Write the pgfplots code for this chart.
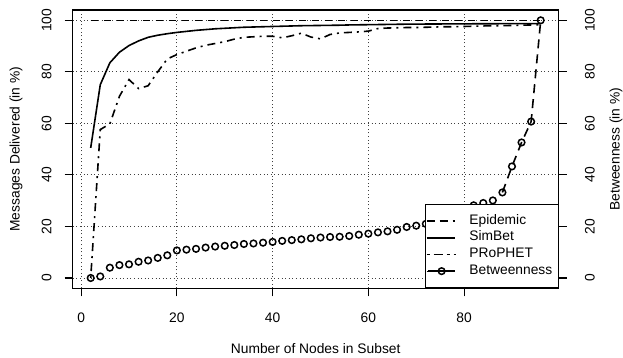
\documentclass[border=0pt]{standalone}
\usepackage{fontspec}
\setmainfont{Liberation Sans}
\usepackage{pgfplots}
\usepackage{pgfplotstable}
\pgfplotsset{compat=1.18}

\pgfplotsset{betlegend/.style={legend image code/.code={\path (0pt,0pt) -- (28.7pt,0pt);
    \draw[black, solid, line width=1.5pt] (1.3pt,0pt) -- (28.7pt,0pt);
    \draw[##1] plot coordinates {(15pt,0pt)};}}}

\pgfplotstableread{
x epi sim pro bet
2 100 50.5 0 0
4 100 75 57.6 0.6
6 100 83.5 59.8 4
8 100 87.6 70.5 5
10 100 90.2 77 5.3
12 100 92 73.5 6.3
14 100 93.4 74.6 6.8
16 100 94.2 80 7.8
18 100 94.8 85 8.8
20 100 95.3 86.7 10.7
22 100 95.7 88 11
24 100 96.1 89.3 11.3
26 100 96.4 90.3 11.8
28 100 96.7 91 12.2
30 100 96.9 91.7 12.5
32 100 97.1 92.7 12.8
34 100 97.3 93.4 13.2
36 100 97.4 93.6 13.4
38 100 97.5 93.8 13.7
40 100 97.6 93.8 14
42 100 97.7 93.2 14.4
44 100 97.8 94 14.7
46 100 97.9 95 15
48 100 97.95 93.5 15.4
50 100 98.0 92.8 15.7
52 100 98.05 94.5 15.9
54 100 98.1 95.1 16
56 100 98.2 95.3 16.3
58 100 98.25 95.5 16.8
60 100 98.3 95.8 17.2
62 100 98.35 96.8 17.7
64 100 98.4 97 18.1
66 100 98.45 97.1 18.7
68 100 98.5 97.2 19.8
70 100 98.5 97.2 20.3
72 100 98.55 97.3 21
74 100 98.55 97.4 22
76 100 98.6 97.5 23.5
78 100 98.6 97.5 25
80 100 98.6 97.6 27
82 100 98.65 97.7 28.2
84 100 98.65 97.8 29.1
86 100 98.65 97.9 30.1
88 100 98.7 97.9 33.2
90 100 98.7 98 43.3
92 100 98.7 98.1 52.6
94 100 98.7 98.2 60.7
96 100 98.7 98.3 100
}\data

\pgfplotstableread{
x bet
88 33.2
90 43.3
92 52.6
94 60.7
96 100
}\betline

\begin{document}
\begin{tikzpicture}[font=\fontsize{13.8}{16}\selectfont]
\useasboundingbox (0,0) rectangle (623pt,358pt);
\begin{axis}[
  at={(72.7pt,69.7pt)}, anchor=south west,
  scale only axis, width=486pt, height=278.3pt,
  xmin=-1.76, xmax=99.76, ymin=-4, ymax=104,
  xtick={0,20,40,60,80}, ytick={0,20,40,60,80,100},
  xtick pos=lower, ytick pos=left,
  tick align=outside, major tick length=8pt,
  tick style={black, line width=1.1pt},
  axis line style={line width=1.2pt},
  grid=major,
  grid style={dash pattern=on 1pt off 2.6pt, line width=0.9pt, black!75},
  /pgf/number format/assume math mode=true,
  yticklabel style={xshift=-13pt, rotate=90, anchor=south, inner sep=0pt},
  xticklabel style={anchor=north, inner sep=0pt, yshift=-16.5pt},
  legend cell align=left,
  legend style={at={(1,0)}, anchor=south east, draw=black, fill=white,
    line width=1.2pt, inner xsep=0pt, inner ysep=9.8pt, row sep=3.2pt,
    nodes={inner sep=0pt, text height=10pt, text depth=3.5pt, text width=88.7pt},
    /tikz/every odd column/.style={column sep=13.3pt}},
  legend image code/.code={\path (0pt,0pt) -- (28.7pt,0pt);
    \draw[#1] (1.3pt,0pt) -- (28.7pt,0pt);},
]
\addplot[black, line width=1.6pt, dash pattern=on 7pt off 6pt] table[x=x, y=epi] {\data};
\addlegendentry{Epidemic}
\addplot[black, line width=1.6pt, solid] table[x=x, y=sim] {\data};
\addlegendentry{SimBet}
\addplot[black, line width=1.6pt, dash pattern=on 2pt off 5pt on 8pt off 5pt] table[x=x, y=pro] {\data};
\addlegendentry{PRoPHET}
\addplot[black, line width=1.6pt, dash pattern=on 9pt off 6pt, forget plot] table[x=x, y=bet] {\betline};
\addplot[black, only marks, mark=o, mark size=3.3pt,
  mark options={solid, fill=white, line width=1.5pt}, betlegend] table[x=x, y=bet] {\data};
\addlegendentry{Betweenness}
\end{axis}
\begin{axis}[
  at={(72.7pt,69.7pt)}, anchor=south west,
  scale only axis, width=486pt, height=278.3pt,
  xmin=-1.76, xmax=99.76, ymin=-4, ymax=104,
  hide x axis, axis y line*=right,
  ytick={0,20,40,60,80,100},
  tick align=outside, major tick length=8pt,
  tick style={black, line width=1.1pt},
  axis line style={line width=1.2pt},
  /pgf/number format/assume math mode=true,
  yticklabel style={xshift=18pt, rotate=90, anchor=north, inner sep=0pt},
]
\addplot[draw=none] coordinates {(0,0)};
\end{axis}
\node[rotate=90] at (16pt,208.85pt) {Messages Delivered (in \%)};
\node[rotate=90] at (616pt,208.85pt) {Betweenness (in \%)};
\node at (315.7pt,9.7pt) {Number of Nodes in Subset};
\end{tikzpicture}
\end{document}
